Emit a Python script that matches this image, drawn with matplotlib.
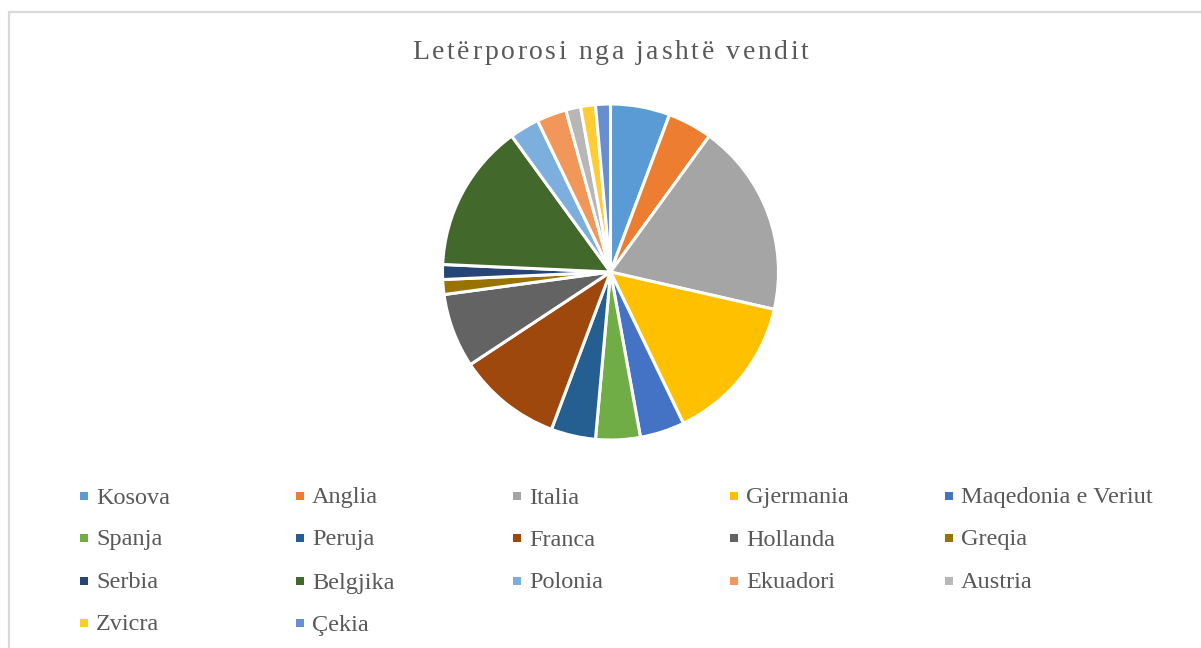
import matplotlib
matplotlib.use("Agg")
import matplotlib.pyplot as plt
from matplotlib.patches import Rectangle

title = "Letërporosi nga jashtë vendit"
countries = ["Kosova", "Anglia", "Italia", "Gjermania", "Maqedonia e Veriut",
             "Spanja", "Peruja", "Franca", "Hollanda", "Greqia",
             "Serbia", "Belgjika", "Polonia", "Ekuadori", "Austria",
             "Zvicra", "Çekia"]
values = [4, 3, 13, 10, 3, 3, 3, 7, 5, 1, 1, 10, 2, 2, 1, 1, 1]
colors = ["#5B9BD5", "#ED7D31", "#A5A5A5", "#FFC000", "#4472C4",
          "#70AD47", "#255E91", "#9E480E", "#636363", "#997300",
          "#264478", "#43682B", "#7CAFDD", "#F1975A", "#B7B7B7",
          "#FFCD33", "#698ED0"]

W, H = 1201, 648
fig = plt.figure(figsize=(W / 100, H / 100), dpi=100)

# chart border
fig.patches.append(Rectangle((8.5 / W, -0.01), 1.05, (H - 11.5) / H + 0.01,
                             transform=fig.transFigure, fill=False,
                             edgecolor="#D9D9D9", linewidth=1.6))

cx, cy, r = 610.5, 272, 168
ax = fig.add_axes([(cx - r) / W, (H - cy - r) / H, 2 * r / W, 2 * r / H])
ax.pie(values, colors=colors, startangle=90, counterclock=False,
       wedgeprops=dict(edgecolor="white", linewidth=2.2))
ax.set_xlim(-1, 1)
ax.set_ylim(-1, 1)
ax.set_aspect("equal")
ax.axis("off")

# title with letter spacing (drawn character by character)
renderer = fig.canvas.get_renderer()
tkw = dict(family="Liberation Serif", fontsize=20, color="#595959",
           va="baseline", ha="left")
spacing = 2.6
chars = []
widths = []
for ch in title:
    t = fig.text(0, 0, ch, **tkw)
    if ch == " ":
        w = fig.text(0, 0, "n n", **tkw)
        w2 = fig.text(0, 0, "nn", **tkw)
        wid = (w.get_window_extent(renderer).width
               - w2.get_window_extent(renderer).width)
        w.remove(); w2.remove()
    else:
        wid = t.get_window_extent(renderer).width
    chars.append(t)
    widths.append(wid)
total = sum(widths) + spacing * (len(widths) - 1)
x = 610.5 - total / 2
base_y = 59
for t, wid in zip(chars, widths):
    t.set_position((x / W, 1 - base_y / H))
    x += wid + spacing

col_x = [84, 300, 517, 734, 949]
row_y = [496, 538, 581, 623]
ms = 7.5
for i, (name, c) in enumerate(zip(countries, colors)):
    row, col = divmod(i, 5)
    x = col_x[col]
    y = row_y[row]
    fig.patches.append(Rectangle(((x - ms / 2) / W, 1 - (y + ms / 2) / H),
                                 ms / W, ms / H, transform=fig.transFigure,
                                 facecolor=c, edgecolor="none"))
    fig.text((x + 12) / W, 1 - (y + 7.5) / H, name, ha="left", va="baseline",
             family="Liberation Serif", fontsize=17.5, color="#595959")

fig.savefig("out.png", dpi=100, facecolor="white")
